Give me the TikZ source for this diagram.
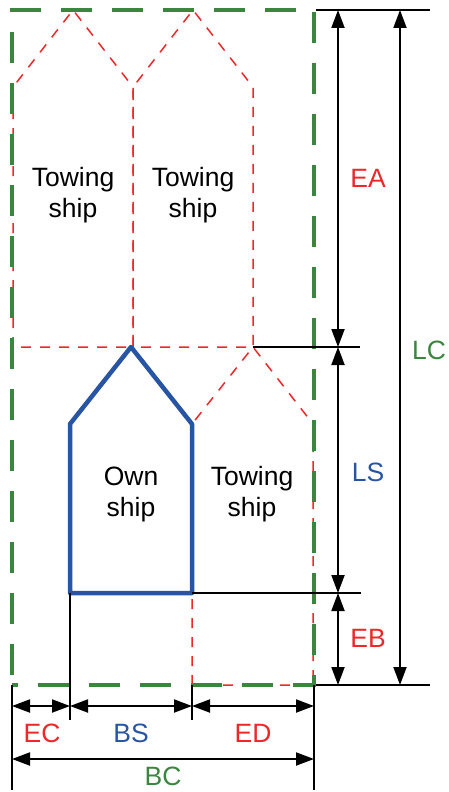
\documentclass[tikz,border=0pt]{standalone}
\usepackage{fontspec}
\setmainfont{Liberation Sans}
\usetikzlibrary{arrows.meta}
\definecolor{cred}{RGB}{238,40,40}
\definecolor{cgreen}{RGB}{58,134,62}
\definecolor{cblue}{RGB}{40,84,164}
\begin{document}
\begin{tikzpicture}[x=1pt,y=-1pt,
  lbl/.style={font=\fontsize{26.5}{31}\selectfont,align=center,inner sep=0pt},
  towbox/.style={cred,line width=1.5pt,dash pattern=on 10pt off 9pt},
  ownbox/.style={cblue,line width=4.5pt,line join=round},
  envbox/.style={cgreen,line width=3.8pt,dash pattern=on 31pt off 20pt,dash phase=-10pt},
  ext/.style={black,line width=1.5pt},
  dim/.style={black,line width=2pt,{Triangle[length=18pt,width=13pt]}-{Triangle[length=18pt,width=13pt]}}]
\useasboundingbox (0,0) rectangle (448,792);
% towing ships (top)
\draw[towbox] (13,347) -- (13,87) -- (73,10) -- (133,87) -- (133,347) -- cycle;
\draw[towbox] (133,347) -- (133,87) -- (193,10) -- (253,87) -- (253,347) -- (133,347);
\draw[towbox] (192,685) -- (192,424) -- (253,347) -- (313,424) -- (313,685) -- cycle;
% own ship
\draw[ownbox] (70,593) -- (70,424) -- (131,347) -- (192,424) -- (192,593) -- cycle;
% green envelope
\draw[envbox] (12,685) -- (12,10) -- (314,10) -- (314,685) -- cycle;
% coordinates
\coordinate (tA) at (316,10); \coordinate (tB) at (430,10);
\coordinate (mA) at (253,347); \coordinate (mB) at (360,347);
\coordinate (sA) at (192,593); \coordinate (sB) at (361,593);
\coordinate (bA) at (316,685); \coordinate (bB) at (430,685);
\coordinate (x0t) at (12,685); \coordinate (x0b) at (12,790);
\coordinate (x1t) at (70,593); \coordinate (x1b) at (70,720);
\coordinate (x2t) at (192,685); \coordinate (x2b) at (192,720);
\coordinate (x3t) at (314,685); \coordinate (x3b) at (314,790);
\draw[ext] (tA) -- (tB);
\draw[ext] (mA) -- (mB);
\draw[ext] (sA) -- (sB);
\draw[ext] (bA) -- (bB);
\draw[ext] (x0t) -- (x0b);
\draw[ext] (x1t) -- (x1b);
\draw[ext] (x2t) -- (x2b);
\draw[ext] (x3t) -- (x3b);
% dimension arrows
\coordinate (ea1) at (338,10); \coordinate (ea2) at (338,347);
\coordinate (ls2) at (338,593); \coordinate (eb2) at (338,685);
\coordinate (lc1) at (400,10); \coordinate (lc2) at (400,685);
\draw[dim] (ea1) -- (ea2);
\draw[dim] (ea2) -- (ls2);
\draw[dim] (ls2) -- (eb2);
\draw[dim] (lc1) -- (lc2);
\coordinate (h0) at (12,706); \coordinate (h1) at (70,706);
\coordinate (h2) at (192,706); \coordinate (h3) at (314,706);
\coordinate (bc0) at (12,759); \coordinate (bc1) at (314,759);
\draw[dim] (h0) -- (h1);
\draw[dim] (h1) -- (h2);
\draw[dim] (h2) -- (h3);
\draw[dim] (bc0) -- (bc1);
% labels
\node[lbl] (t1) at (73,195) {Towing\\ship};
\node[lbl] (t2) at (193,195) {Towing\\ship};
\node[lbl] (t3) at (252,494) {Towing\\ship};
\node[lbl] (own) at (131,494) {Own\\ship};
\node[lbl,text=cred] (lEA) at (368,178) {EA};
\node[lbl,text=cgreen] (lLC) at (429,350) {LC};
\node[lbl,text=cblue] (lLS) at (368,472) {LS};
\node[lbl,text=cred] (lEB) at (368,638) {EB};
\node[lbl,text=cred] (lEC) at (42,733) {EC};
\node[lbl,text=cblue] (lBS) at (131,733) {BS};
\node[lbl,text=cred] (lED) at (253,733) {ED};
\node[lbl,text=cgreen] (lBC) at (163,776) {BC};
\end{tikzpicture}
\end{document}
